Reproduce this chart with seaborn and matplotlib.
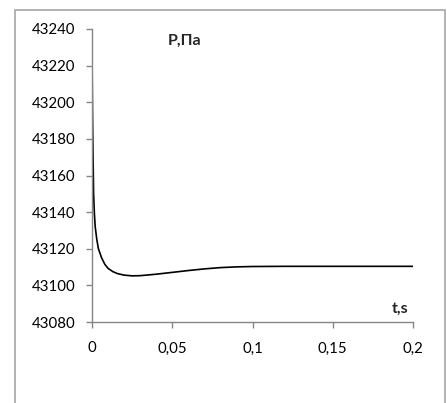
import pandas as pd
import numpy as np
import matplotlib
matplotlib.use("Agg")
import matplotlib.pyplot as plt
import seaborn as sns
from matplotlib.patches import Rectangle

# values
t = [0, 0.0003, 0.0006, 0.001, 0.0015, 0.002, 0.003, 0.004, 0.006, 0.008, 0.010,
     0.013, 0.016, 0.020, 0.025, 0.030, 0.040, 0.050, 0.060, 0.070, 0.080,
     0.090, 0.100, 0.120, 0.140, 0.160, 0.180, 0.200]
p = [43228, 43195, 43174, 43150, 43139, 43132, 43125, 43120, 43115, 43111.5, 43109.3,
     43107.5, 43106.4, 43105.6, 43105.2, 43105.3, 43106.1, 43107.1, 43108.1, 43109.0, 43109.7,
     43110.1, 43110.3, 43110.4, 43110.4, 43110.4, 43110.4, 43110.4]
xticks = [0, 0.05, 0.1, 0.15, 0.2]
xtick_labels = ['0', '0,05', '0,1', '0,15', '0,2']
yticks = [43080, 43100, 43120, 43140, 43160, 43180, 43200, 43220, 43240]

sns.set_style("white")
plt.rcParams['font.family'] = ['Lato', 'DejaVu Sans']

df = pd.DataFrame({'t': t, 'P': p})

fig = plt.figure(figsize=(4.47, 4.03), dpi=100)
ax = fig.add_axes([92/447, 1-322/403, (413-92)/447, (322-29)/403])
sns.lineplot(data=df, x='t', y='P', color='black', linewidth=1.2, ax=ax)

ax.set_xlim(0, 0.2)
ax.set_ylim(43080, 43240)
ax.set_xticks(xticks)
ax.set_xticklabels(xtick_labels)
ax.set_yticks(yticks)
ax.set_xlabel('')
ax.set_ylabel('')
for s in ['top', 'right']:
    ax.spines[s].set_visible(False)
for s in ['left', 'bottom']:
    ax.spines[s].set_color('#868686')
    ax.spines[s].set_linewidth(1.0)
ax.tick_params(axis='both', direction='out', length=4, width=1, color='#868686',
               labelsize=10.8, labelcolor='black')
ax.tick_params(axis='x', pad=10)
ax.tick_params(axis='y', pad=8, left=True)
ax.tick_params(axis='x', bottom=True)

ax.text(0.235, 0.945, 'P,Па', transform=ax.transAxes, fontsize=11.5, fontweight='bold')
ax.text(0.985, 0.03, 't,s', transform=ax.transAxes, fontsize=11.5, fontweight='bold', ha='right')

# chart frame
fig.patches.append(Rectangle((15/447, -0.1), (445-15)/447, 1.1 - 10/403, transform=fig.transFigure,
                             fill=False, edgecolor='#a6a6a6', linewidth=1.2))

fig.savefig('out.png', dpi=100)
